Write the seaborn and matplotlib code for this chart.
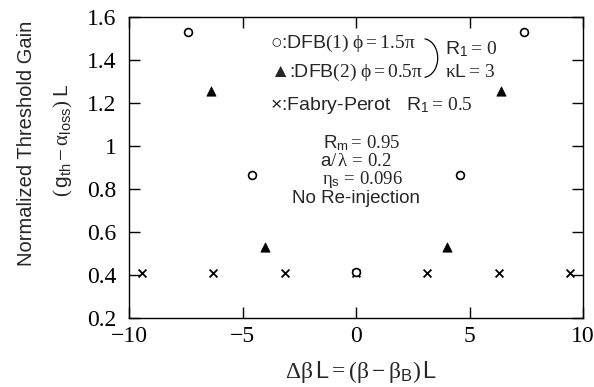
import matplotlib
matplotlib.use("Agg")
import matplotlib.pyplot as plt
from matplotlib.patches import Arc
import seaborn as sns
import pandas as pd

# ---- data ----
dfb1_x = [-7.4, -4.56, 0.0, 4.56, 7.4]
dfb1_y = [1.53, 0.865, 0.415, 0.865, 1.53]
dfb2_x = [-6.4, -4.0, 4.0, 6.4]
dfb2_y = [1.255, 0.53, 0.53, 1.255]
fp_x = [-9.42, -6.28, -3.14, 0.0, 3.14, 6.28, 9.42]
fp_y = [0.41, 0.41, 0.41, 0.41, 0.41, 0.41, 0.41]
xticks = [-10, -5, 0, 5, 10]
xtick_labels = ["\u221210", "\u22125", "0", "5", "10"]
yticks = [0.2, 0.4, 0.6, 0.8, 1.0, 1.2, 1.4, 1.6]
ytick_labels = ["0.2", "0.4", "0.6", "0.8", "1", "1.2", "1.4", "1.6"]

sns.set_theme(style="ticks")
plt.rcParams['font.family'] = ['Liberation Sans', 'DejaVu Sans']
plt.rcParams['mathtext.fontset'] = 'custom'
plt.rcParams['mathtext.rm'] = 'Liberation Serif'
plt.rcParams['mathtext.it'] = 'Liberation Serif:italic'
plt.rcParams['mathtext.sf'] = 'Liberation Sans'
plt.rcParams['mathtext.bf'] = 'Liberation Serif:bold'

fig = plt.figure(figsize=(5.94, 3.87), dpi=100)
ax = fig.add_axes([129/594, 69/387, 454/594, 301/387])

df1 = pd.DataFrame({"x": dfb1_x, "y": dfb1_y})
df2 = pd.DataFrame({"x": dfb2_x, "y": dfb2_y})
df3 = pd.DataFrame({"x": fp_x, "y": fp_y})

sns.scatterplot(data=df1, x="x", y="y", ax=ax, marker="o", s=32,
                facecolor="white", edgecolor="black", linewidth=1.2, zorder=3)
sns.scatterplot(data=df2, x="x", y="y", ax=ax, marker="^", s=45,
                color="black", edgecolor="black", linewidth=0.5, zorder=3)
sns.scatterplot(data=df3, x="x", y="y", ax=ax, marker="x", s=32,
                color="black", linewidth=1.3, zorder=2)

ax.set_xlim(-10, 10)
ax.set_ylim(0.2, 1.6)
ax.set_xticks(xticks)
ax.set_yticks(yticks)
ax.set_xticklabels(xtick_labels, fontfamily="Liberation Serif", fontsize=17)
ax.set_yticklabels(ytick_labels, fontfamily="Liberation Serif", fontsize=17)
ax.tick_params(direction="in", length=8, width=1, top=True, right=True, colors="black")
ax.tick_params(axis="x", pad=6)
ax.tick_params(axis="y", pad=9)
for sp in ax.spines.values():
    sp.set_linewidth(1.0)
    sp.set_color("black")
ax.set_xlabel("")
ax.set_ylabel("")

fig.text(361/594, 1 - 372/387,
         r"$\mathrm{\Delta\beta}\,\mathsf{L} = \mathrm{(\beta - \beta}_{\mathsf{B}}\mathrm{)}\,\mathsf{L}$",
         fontsize=17, ha="center", va="center")
fig.text(27/594, 1 - 143/387, "Normalized Threshold Gain", fontsize=14.5,
         rotation=90, ha="center", va="center")
fig.text(63/594, 1 - 140/387,
         r"$\mathrm{(}\,\mathsf{g}_{\mathsf{th}} - \mathrm{\alpha}_{\mathsf{loss}}\mathrm{)}\;\mathsf{L}$",
         fontsize=15, rotation=90, ha="center", va="center")

fs = 14
fam = ['Liberation Sans', 'DejaVu Sans']
ax.text(-3.8, 1.479, "\u25CB:DFB" + r"$\mathrm{(1)\ \phi{=}1.5\pi}$", fontsize=fs, va="center", ha="left", family=fam)
ax.text(-3.8, 1.344, "\u25B2:DFB" + r"$\mathrm{(2)\ \phi{=}0.5\pi}$", fontsize=fs, va="center", ha="left", family=fam)
ax.text(-3.8, 1.190, "\u00D7:Fabry-Perot   R" + r"$_{\mathsf{1}}\mathrm{{=}\,0.5}$", fontsize=fs, va="center", ha="left", family=fam)
ax.add_patch(Arc((2.95, 1.409), 1.3, 0.18, theta1=-52, theta2=52,
                 color="black", linewidth=0.9))
ax.text(3.9, 1.45, "R" + r"$_{\mathsf{1}}\mathrm{{=}\,0}$", fontsize=fs, va="center", ha="left")
ax.text(3.9, 1.34, r"$\mathrm{\kappa}$" + "L" + r"$\mathrm{{=}\,3}$", fontsize=fs, va="center", ha="left")

fb = 13.5
ax.text(-1.45, 1.014, "R" + r"$_{\mathsf{m}}\mathrm{{=}\,0.95}$", fontsize=fb, va="center", ha="left")
ax.text(-1.58, 0.926, "a" + r"$\mathrm{/\,\lambda\,=\,0.2}$", fontsize=fb, va="center", ha="left")
ax.text(-1.49, 0.842, r"$\mathrm{\eta}_{\mathsf{s}}\mathrm{\,=\,0.096}$", fontsize=fb, va="center", ha="left")
ax.text(-2.8, 0.758, "No Re-injection", fontsize=fb, va="center", ha="left")

fig.savefig("out.png", dpi=100)
